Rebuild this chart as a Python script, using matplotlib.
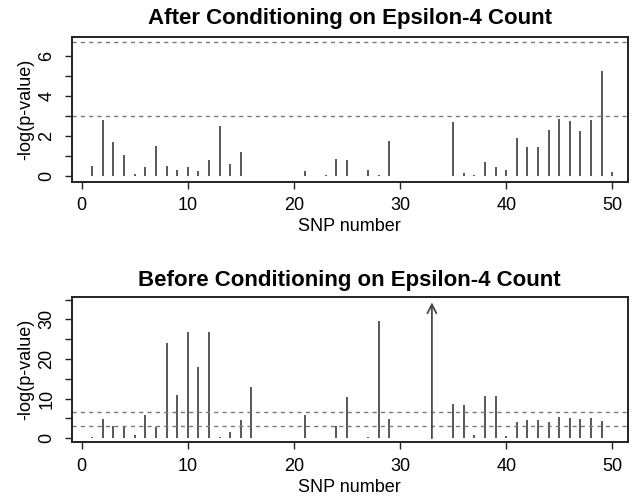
import matplotlib
matplotlib.use("Agg")
from matplotlib import pyplot as plt

plt.rcParams["font.family"] = ["Liberation Sans", "DejaVu Sans"]

# after conditioning (top panel)
snp_after = [1, 2, 3, 4, 5, 6, 7, 8, 9, 10, 11, 12, 13, 14, 15, 21, 23, 24, 25,
             27, 28, 29, 35, 36, 37, 38, 39, 40, 41, 42, 43, 44, 45, 46, 47, 48, 49, 50]
logp_after = [0.5, 2.8, 1.73, 1.07, 0.13, 0.46, 1.5, 0.54, 0.31, 0.46, 0.25, 0.83,
              2.52, 0.61, 1.2, 0.26, 0.05, 0.87, 0.8, 0.33, 0.05, 1.77, 2.72, 0.17,
              0.07, 0.73, 0.45, 0.33, 1.93, 1.45, 1.45, 2.31, 2.85, 2.77, 2.26, 2.8,
              5.23, 0.21]

# before conditioning (bottom panel); SNP 33 is off the scale -> arrow
snp_before = [1, 2, 3, 4, 5, 6, 7, 8, 9, 10, 11, 12, 13, 14, 15, 16, 21, 24, 25,
              27, 28, 29, 33, 35, 36, 37, 38, 39, 40, 41, 42, 43, 44, 45, 46, 47, 48, 49]
logp_before = [0.25, 4.9, 3.2, 3.2, 0.85, 5.8, 2.8, 24.0, 11.0, 26.7, 18.05, 26.7,
               0.25, 1.7, 4.5, 13.05, 5.76, 3.0, 10.4, 0.25, 29.5, 4.9, 34.3, 8.56,
               8.3, 0.93, 10.7, 10.7, 0.5, 4.07, 4.66, 4.5, 4.07, 5.34, 5.17, 4.9,
               5.17, 4.24]
offscale = [33]

thresholds = [3.0, 6.7]

bar_col = "#4a4a4a"
dash_col = "#7a7a7a"

fig = plt.figure(figsize=(6.36, 4.98), dpi=100)
ax1 = fig.add_axes([0.113, 0.635, 0.874, 0.291])
ax2 = fig.add_axes([0.113, 0.112, 0.874, 0.292])


def style(ax, title, yticks, ylabels, tpad):
    ax.set_xlim(-0.92, 51.45)
    ax.set_xticks([0, 10, 20, 30, 40, 50])
    ax.set_yticks(yticks)
    ax.set_yticklabels(ylabels, rotation=90, va="center")
    ax.tick_params(axis="both", direction="out", length=5, width=1.0,
                   labelsize=13, color="#222222")
    ax.tick_params(axis="y", pad=7)
    ax.tick_params(axis="x", pad=6)
    for s in ax.spines.values():
        s.set_linewidth(1.4)
        s.set_color("#222222")
    ax.set_title(title, fontsize=16, fontweight="bold", pad=tpad)
    ax.set_xlabel("SNP number", fontsize=13, labelpad=3)
    ax.set_ylabel("-log(p-value)", fontsize=13, labelpad=3)
    for t in thresholds:
        ax.axhline(t, color=dash_col, lw=1.0, ls=(0, (3, 3)))


ax1.vlines(snp_after, 0, logp_after, color=bar_col, lw=1.3)
ax1.set_ylim(-0.27, 6.95)
style(ax1, "After Conditioning on Epsilon-4 Count",
      [0, 1, 2, 3, 4, 5, 6], ["0", "", "2", "", "4", "", "6"], 9.5)

xs = [s for s in snp_before if s not in offscale]
ys = [v for s, v in zip(snp_before, logp_before) if s not in offscale]
ax2.vlines(xs, 0, ys, color=bar_col, lw=1.3)
for s, v in zip(snp_before, logp_before):
    if s in offscale:
        ax2.annotate("", xy=(s, v), xytext=(s, 0),
                     arrowprops=dict(arrowstyle="->", lw=1.3, color=bar_col,
                                     shrinkA=0, shrinkB=0, mutation_scale=16))
ax2.set_ylim(-1.0, 35.7)
style(ax2, "Before Conditioning on Epsilon-4 Count",
      [0, 5, 10, 15, 20, 25, 30, 35], ["0", "", "10", "", "20", "", "30", ""], 7.5)

fig.savefig("out.png", dpi=100)
